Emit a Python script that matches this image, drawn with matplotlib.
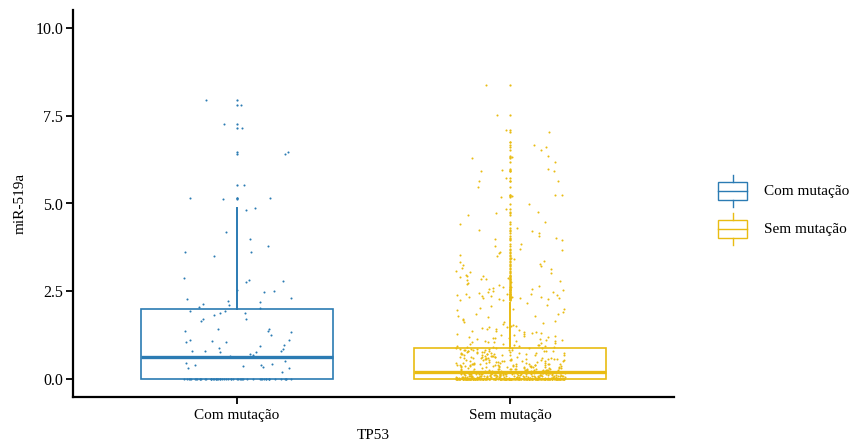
import numpy as np
import matplotlib.pyplot as plt
from matplotlib.patches import Rectangle
from matplotlib.lines import Line2D
from matplotlib.legend_handler import HandlerBase

plt.rcParams['font.family'] = ['Liberation Serif', 'DejaVu Serif']

groups = ['Com mutação', 'Sem mutação']
colors = ['#2b7bb3', '#e9bc12']
yticks = [0.0, 2.5, 5.0, 7.5, 10.0]

# miR-519a expression, TP53 mutated samples
com_zeros = 54
com_values = [7.95, 7.81, 7.26, 7.14, 6.45, 6.40, 5.53, 5.15, 5.15, 5.14, 4.87, 4.81,
              4.20, 4.00, 3.78, 3.63, 3.61, 3.52, 2.88, 2.83, 2.79, 2.78, 2.55, 2.51,
              2.48, 2.32, 2.28, 2.24, 2.19, 2.15, 2.11, 2.05, 2.02,
              1.94, 1.94, 1.89, 1.88, 1.84, 1.71, 1.71, 1.67, 1.44, 1.43, 1.39, 1.39,
              1.34, 1.27, 1.12, 1.11, 1.10, 1.07, 1.06, 0.99, 0.96, 0.88, 0.86, 0.82,
              0.82, 0.80, 0.78, 0.77, 0.73, 0.68, 0.66, 0.64, 0.63,
              0.52, 0.48, 0.45, 0.42, 0.42, 0.39, 0.35, 0.33, 0.32, 0.20]

# miR-519a expression, TP53 wild type samples
sem_zeros = 181
sem_low = [
    0.01, 0.03, 0.12, 0.07, 0.19, 0.05, 0.15, 0.02, 0.10, 0.17, 0.04, 0.08, 0.21, 0.13, 0.06, 0.11, 0.02, 0.18, 0.09, 0.14,
    0.03, 0.16, 0.07, 0.20, 0.01, 0.12, 0.05, 0.10, 0.15, 0.08, 0.04, 0.19, 0.11, 0.06, 0.13, 0.02, 0.17, 0.09, 0.21, 0.07,
    0.14, 0.03, 0.10, 0.18, 0.05, 0.12, 0.01, 0.16, 0.08, 0.20, 0.06, 0.11, 0.04, 0.15, 0.09, 0.13, 0.02, 0.19, 0.07, 0.17,
    0.10, 0.05, 0.14, 0.03, 0.21, 0.08, 0.12, 0.06, 0.18, 0.01, 0.16, 0.09, 0.11, 0.04, 0.20, 0.07, 0.13, 0.02, 0.15, 0.10,
    0.06, 0.19, 0.03, 0.12, 0.08, 0.17, 0.05, 0.14, 0.01, 0.11, 0.09, 0.21, 0.04, 0.16, 0.07, 0.13, 0.02, 0.18, 0.10, 0.06,
    0.15, 0.03, 0.12, 0.20, 0.08, 0.05, 0.17, 0.11, 0.01, 0.14, 0.09, 0.19, 0.04, 0.13, 0.07, 0.16, 0.02, 0.10, 0.18, 0.06,
    0.12, 0.21, 0.03, 0.15, 0.08, 0.11, 0.05, 0.19, 0.14, 0.01, 0.17, 0.09, 0.13, 0.04, 0.20, 0.07, 0.10, 0.02, 0.16, 0.12,
    0.06, 0.18, 0.03, 0.14, 0.09, 0.11, 0.05, 0.21, 0.08, 0.15, 0.01, 0.13, 0.17, 0.04, 0.10, 0.19, 0.07, 0.12, 0.02, 0.16]
sem_mid = [
    0.23, 0.47, 0.31, 0.72, 0.56, 0.28, 0.85, 0.39, 0.64, 0.25, 0.51, 0.78, 0.34, 0.61, 0.43, 0.88, 0.27, 0.69, 0.37, 0.54,
    0.82, 0.29, 0.45, 0.66, 0.33, 0.74, 0.24, 0.58, 0.41, 0.87, 0.36, 0.62, 0.26, 0.49, 0.79, 0.32, 0.57, 0.44, 0.70, 0.22,
    0.53, 0.81, 0.30, 0.67, 0.38, 0.48, 0.84, 0.25, 0.59, 0.42, 0.76, 0.35, 0.63, 0.27, 0.52, 0.89, 0.40, 0.68, 0.31, 0.46,
    0.73, 0.24, 0.55, 0.37, 0.80, 0.29, 0.60, 0.43, 0.86, 0.33, 0.50, 0.71, 0.26, 0.65, 0.39, 0.77, 0.23, 0.54, 0.45, 0.83,
    0.30, 0.61, 0.36, 0.75, 0.28, 0.48, 0.88, 0.41, 0.57, 0.25, 0.69, 0.34, 0.52, 0.79, 0.38, 0.63, 0.22, 0.46, 0.85, 0.32,
    0.58, 0.40, 0.72, 0.27, 0.50, 0.81, 0.35, 0.66, 0.24, 0.44, 0.87, 0.31, 0.60, 0.42, 0.74, 0.29, 0.53, 0.37, 0.68, 0.26,
    0.49, 0.84, 0.33, 0.62, 0.39, 0.78, 0.23, 0.56, 0.45, 0.71, 0.30, 0.64, 0.36, 0.82, 0.28, 0.51, 0.43, 0.89, 0.25, 0.59,
    0.34, 0.76, 0.41, 0.55, 0.27, 0.67, 0.38, 0.86, 0.32, 0.47, 0.73, 0.24, 0.61, 0.40, 0.80, 0.29, 0.54, 0.35, 0.70, 0.44,
    0.22, 0.65, 0.37, 0.83, 0.31, 0.57, 0.26, 0.75, 0.42, 0.48]
sem_high = [
    0.93, 1.42, 1.08, 1.87, 0.97, 1.21, 1.64, 1.03, 1.35, 2.04, 0.91, 1.15, 1.53, 1.96, 1.11, 1.28, 0.95, 1.73, 1.46, 1.02,
    1.19, 2.11, 1.33, 0.99, 1.58, 1.07, 1.81, 1.24, 0.92, 1.39, 1.67, 1.13, 2.16, 1.49, 1.05, 1.92, 1.26, 0.98, 1.61, 1.17,
    1.37, 1.01, 1.77, 1.22, 1.55, 0.94, 1.31, 2.08, 1.09, 1.44, 1.70, 1.14, 0.96, 1.85, 1.29, 1.52, 1.04, 1.99, 1.18, 1.41,
    0.90, 1.62, 1.25, 1.10, 1.79, 1.36, 2.01, 1.06, 1.48, 1.20]
sem_top = [
    2.27, 3.14, 2.48, 3.86, 2.35, 2.91, 4.22, 2.56, 3.37, 2.29, 2.73, 4.41, 3.02, 2.39, 3.58, 2.64, 2.31, 3.95, 2.82, 3.21,
    2.44, 4.08, 2.58, 2.33, 3.46, 2.97, 2.26, 3.71, 2.51, 4.31, 2.68, 3.09, 2.37, 2.86, 3.63, 2.42, 4.15, 2.55, 3.27, 2.30,
    2.77, 3.51, 2.46, 2.95, 3.80, 2.62, 2.34, 4.47, 3.18, 2.53, 2.88, 3.41, 2.40, 3.99, 2.70, 2.28, 3.33, 2.60, 4.26, 2.84,
    3.05, 2.49, 3.67, 2.36, 2.79, 4.03, 2.66, 3.24, 2.43, 3.55, 2.93, 2.32,
    4.66, 4.74, 4.76, 4.84, 4.98, 5.18, 5.21, 5.23, 5.24, 5.48, 5.63, 5.65, 5.73, 5.92,
    5.93, 5.95, 5.99, 6.17, 6.30, 6.33, 6.34, 6.51, 6.60, 6.65, 6.75, 7.02, 7.09, 7.52, 8.36]

com = np.array([0.0] * com_zeros + com_values)
sem = np.array([0.0] * sem_zeros + sem_low + sem_mid + sem_high + sem_top)
data = [com, sem]


class BoxKey(HandlerBase):
    # boxplot-style legend key: box, median and whiskers
    def create_artists(self, legend, orig_handle, xdescent, ydescent,
                       width, height, fontsize, trans):
        c = orig_handle.get_edgecolor()
        x0, y0 = -xdescent, -ydescent
        xm = x0 + width / 2
        box = Rectangle((x0, y0 + 0.22 * height), width, 0.56 * height,
                        facecolor='white', edgecolor=c, lw=1.0, transform=trans)
        med = Line2D([x0, x0 + width], [y0 + 0.5 * height] * 2, color=c, lw=1.0, transform=trans)
        lo = Line2D([xm, xm], [y0, y0 + 0.22 * height], color=c, lw=1.0, transform=trans)
        hi = Line2D([xm, xm], [y0 + 0.78 * height, y0 + height], color=c, lw=1.0, transform=trans)
        return [box, med, lo, hi]


fig = plt.figure(figsize=(8.56, 4.46), dpi=100)
ax = fig.add_axes([73 / 856, 49 / 446, 601 / 856, 387 / 446])

bp = ax.boxplot(data, positions=[0, 1], widths=0.7, whis=1.5, showcaps=False,
                patch_artist=True, manage_ticks=False, zorder=2)
for i, c in enumerate(colors):
    bp['boxes'][i].set(facecolor='white', edgecolor=c, linewidth=1.2)
    bp['medians'][i].set(color=c, linewidth=2.4)
    for w in bp['whiskers'][2 * i:2 * i + 2]:
        w.set(color=c, linewidth=1.4)
    bp['fliers'][i].set(marker='o', markersize=1.6, markerfacecolor=c,
                        markeredgecolor='none')

# jittered points, width 0.2 like geom_jitter
rng = np.random.default_rng(519)
for i, (vals, c) in enumerate(zip(data, colors)):
    xj = i + rng.uniform(-0.2, 0.2, len(vals))
    ax.scatter(xj, vals, s=2.2, color=c, linewidths=0, zorder=3)

ax.set_xlim(-0.6, 1.6)
ax.set_ylim(-0.5, 10.5)
ax.set_xticks([0, 1])
ax.set_xticklabels(groups)
ax.set_yticks(yticks)
ax.set_yticklabels([f'{t:.1f}' for t in yticks])
ax.tick_params(axis='both', length=5, width=1.3, labelsize=11, colors='black')
ax.tick_params(axis='y', pad=2, labelsize=11.5)
ax.tick_params(axis='x', pad=4)
for side in ['top', 'right']:
    ax.spines[side].set_visible(False)
for side in ['left', 'bottom']:
    ax.spines[side].set_linewidth(1.6)
ax.set_xlabel('TP53', fontsize=11, labelpad=5)
ax.set_ylabel('miR-519a', fontsize=11, labelpad=6)

handles = [Rectangle((0, 0), 1, 1, edgecolor=c, facecolor='white') for c in colors]
fig.legend(handles, groups, handler_map={Rectangle: BoxKey()}, loc='center left',
           bbox_to_anchor=(718 / 856, 0.53), bbox_transform=fig.transFigure,
           frameon=False, fontsize=11, handlelength=1.9, handleheight=2.85,
           handletextpad=1.1, labelspacing=0.4, borderpad=0, borderaxespad=0)

fig.savefig('out.png', dpi=100)
